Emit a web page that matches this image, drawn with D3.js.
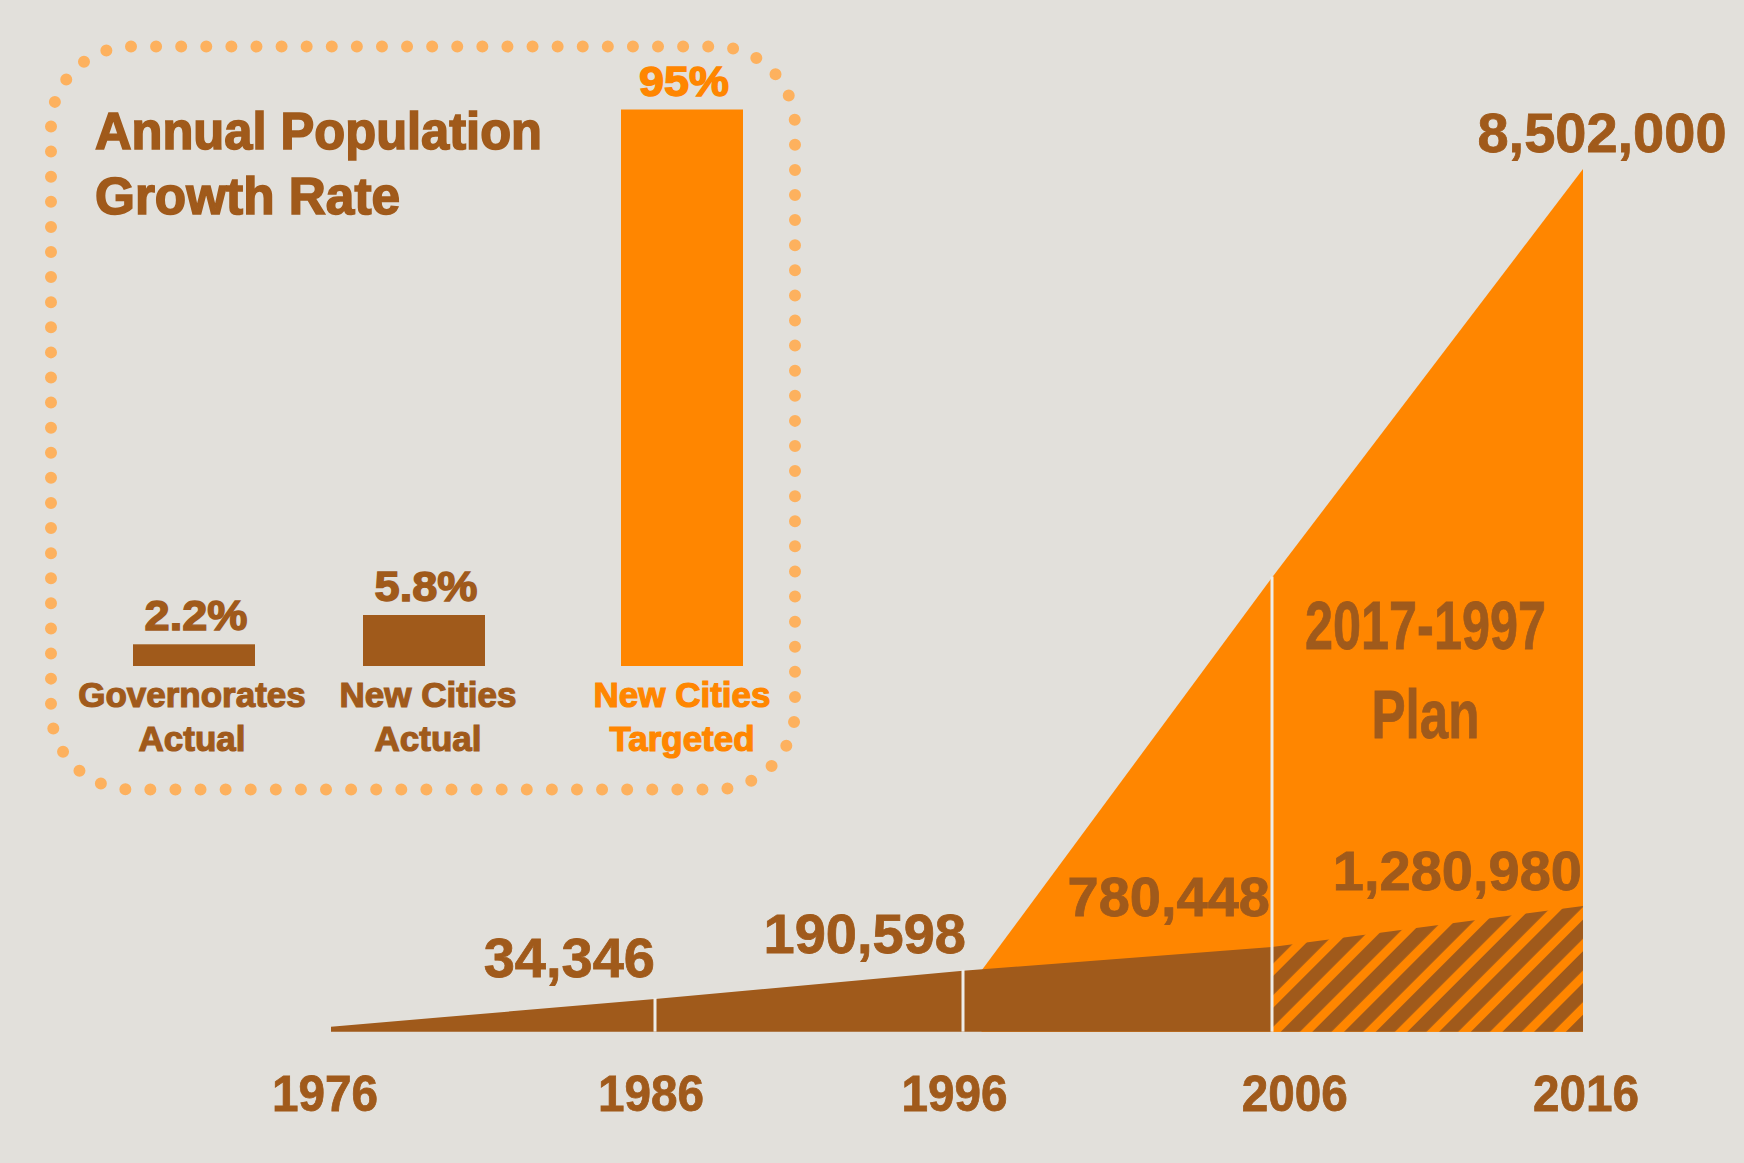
<!DOCTYPE html>
<html>
<head>
<meta charset="utf-8">
<script src="https://cdn.jsdelivr.net/npm/d3@7"></script>
<style>
  html, body { margin: 0; padding: 0; background: #E2E0DB; }
  svg { display: block; }
  text { font-family: "Liberation Sans", Arial, sans-serif; font-weight: bold; }
</style>
</head>
<body>
<script>
// ---------- DATA ----------
const years = [1976, 1986, 1996, 2006, 2016];
const actualPop = [0, 34346, 190598, 780448, 1280980];      // 1976 value is unlabelled (near zero)
const labelledYears = [1986, 1996, 2006, 2016];
const labelledPop = [34346, 190598, 780448, 1280980];
const targetYears = [1996.6, 2006, 2016];
const targetPop = [195000, 4500000, 8502000];
const targetLabel = "8,502,000";
const planLabel = ["2017-1997", "Plan"];

const titleLines = ["Annual Population", "Growth Rate"];
const rateCategories = ["Governorates Actual", "New Cities Actual", "New Cities Targeted"];
const rateLabelLines = [["Governorates", "Actual"], ["New Cities", "Actual"], ["New Cities", "Targeted"]];
const rateValues = [2.2, 5.8, 95];

// ---------- STYLE ----------
const W = 1744, H = 1163;
const BG = "#E2E0DB", BROWN = "#A05A1B", ORANGE = "#FF8600", DOTS = "#FDB15E", DIVIDER = "#EEECE8";

const svg = d3.select("body").append("svg").attr("width", W).attr("height", H);
svg.append("rect").attr("width", W).attr("height", H).attr("fill", BG);

const defs = svg.append("defs");
const pat = defs.append("pattern").attr("id", "hatch")
  .attr("patternUnits", "userSpaceOnUse").attr("width", 22.4).attr("height", 22.4)
  .attr("patternTransform", "rotate(45)");
pat.append("rect").attr("width", 22.4).attr("height", 22.4).attr("fill", ORANGE);
pat.append("rect").attr("width", 13.5).attr("height", 22.4).attr("fill", BROWN);

// ---------- POPULATION CHART ----------
const x = d3.scaleLinear().domain(years).range([331, 655, 963, 1272, 1583]);
const y = d3.scaleLinear()
  .domain([0, 34346, 190598, 780448, 1280980, 8502000])
  .range([1026.7, 999, 970.7, 947, 906, 169]);
const baseY = 1031.7;

const actual = years.map((yr, i) => ({ yr, v: actualPop[i] }));
const target = targetYears.map((yr, i) => ({ yr, v: targetPop[i] }));

const area = d3.area().x(d => x(d.yr)).y0(baseY).y1(d => y(d.v));

// target (orange)
svg.append("path").datum(target).attr("d", area).attr("fill", ORANGE);

// actual 1976-2006 (solid brown)
svg.append("path").datum(actual.filter(d => d.yr <= 2006)).attr("d", area).attr("fill", BROWN);

// actual 2006-2016 (hatched)
svg.append("path").datum(actual.filter(d => d.yr >= 2006)).attr("d", area).attr("fill", "url(#hatch)");

// dividers
const targetAt = d3.scaleLinear().domain(targetYears).range(targetPop);
[1986, 1996, 2006].forEach(yr => {
  const i = years.indexOf(yr);
  let top = y(actualPop[i]);
  if (yr >= targetYears[0]) top = Math.min(top, y(targetAt(yr)));
  svg.append("line")
    .attr("x1", x(yr)).attr("x2", x(yr))
    .attr("y1", baseY).attr("y2", top - 1)
    .attr("stroke", DIVIDER).attr("stroke-width", 3);
});

// value labels
const fmt = d3.format(",");
const labelLift = [22, 18, 31, 16];
const labelDx = [0, 3, -2, -1];
labelledYears.forEach((yr, i) => {
  svg.append("text")
    .attr("x", x(yr) + labelDx[i]).attr("y", y(labelledPop[i]) - labelLift[i])
    .attr("text-anchor", "end").attr("font-size", 56).attr("fill", BROWN)
    .attr("stroke", BROWN).attr("stroke-width", 0.8)
    .text(fmt(labelledPop[i]));
});
svg.append("text")
  .attr("x", x(2016) + 19).attr("y", y(targetPop[targetPop.length - 1]) - 17)
  .attr("text-anchor", "middle").attr("font-size", 56).attr("fill", BROWN)
  .attr("stroke", BROWN).attr("stroke-width", 0.8)
  .text(targetLabel);

// plan label
const planX = (x(2006) + x(2016)) / 2 - 2;
svg.append("text").attr("x", planX).attr("y", 649)
  .attr("text-anchor", "middle").attr("font-size", 68).attr("fill", BROWN)
  .attr("stroke", BROWN).attr("stroke-width", 0.8)
  .attr("textLength", 241).attr("lengthAdjust", "spacingAndGlyphs")
  .text(planLabel[0]);
svg.append("text").attr("x", planX).attr("y", 738)
  .attr("text-anchor", "middle").attr("font-size", 69).attr("fill", BROWN)
  .attr("stroke", BROWN).attr("stroke-width", 0.8)
  .attr("textLength", 108).attr("lengthAdjust", "spacingAndGlyphs")
  .text(planLabel[1]);

// x axis labels
const yearShift = [-6, -4, -8.5, 22.7, 3];
years.forEach((yr, i) => {
  svg.append("text")
    .attr("x", x(yr) + yearShift[i]).attr("y", 1110.7)
    .attr("text-anchor", "middle").attr("font-size", 50).attr("fill", BROWN)
    .attr("stroke", BROWN).attr("stroke-width", 0.8)
    .attr("textLength", 106).attr("lengthAdjust", "spacingAndGlyphs")
    .text(yr);
});

// ---------- GROWTH RATE PANEL ----------
svg.append("rect")
  .attr("x", 51).attr("y", 46.5).attr("width", 744).attr("height", 743)
  .attr("rx", 80).attr("ry", 80)
  .attr("fill", "none").attr("stroke", DOTS).attr("stroke-width", 12)
  .attr("stroke-linecap", "round")
  .attr("pathLength", 113).attr("stroke-dasharray", "0 1");

titleLines.forEach((t, i) => {
  svg.append("text").attr("x", 95).attr("y", 149.4 + i * 64.6)
    .attr("font-size", 51).attr("fill", BROWN)
    .attr("stroke", BROWN).attr("stroke-width", 1.6)
    .attr("textLength", [447, 305][i]).attr("lengthAdjust", "spacingAndGlyphs")
    .text(t);
});

const xb = d3.scaleOrdinal().domain(rateCategories).range([194, 424, 682]);
const yb = d3.scaleLinear().domain([0, 2.2, 5.8, 95]).range([666, 644.3, 615, 109.5]);
const barW = 122;
const rateColors = [BROWN, BROWN, ORANGE];

rateCategories.forEach((c, i) => {
  svg.append("rect")
    .attr("x", xb(c) - barW / 2).attr("y", yb(rateValues[i]))
    .attr("width", barW).attr("height", yb(0) - yb(rateValues[i]))
    .attr("fill", rateColors[i]);
  svg.append("text")
    .attr("x", xb(c) + 2).attr("y", yb(rateValues[i]) - 14)
    .attr("text-anchor", "middle").attr("font-size", 42).attr("fill", rateColors[i])
    .attr("stroke", rateColors[i]).attr("stroke-width", 1.4)
    .attr("textLength", [103, 103, 90][i]).attr("lengthAdjust", "spacingAndGlyphs")
    .text(rateValues[i] + "%");
  rateLabelLines[i].forEach((t, j) => {
    svg.append("text")
      .attr("x", xb(c) + [-2, 4, 0][i]).attr("y", 706.5 + j * 44)
      .attr("text-anchor", "middle").attr("font-size", 35).attr("fill", rateColors[i])
      .attr("stroke", rateColors[i]).attr("stroke-width", 1.2)
      .text(t);
  });
});
</script>
</body>
</html>
